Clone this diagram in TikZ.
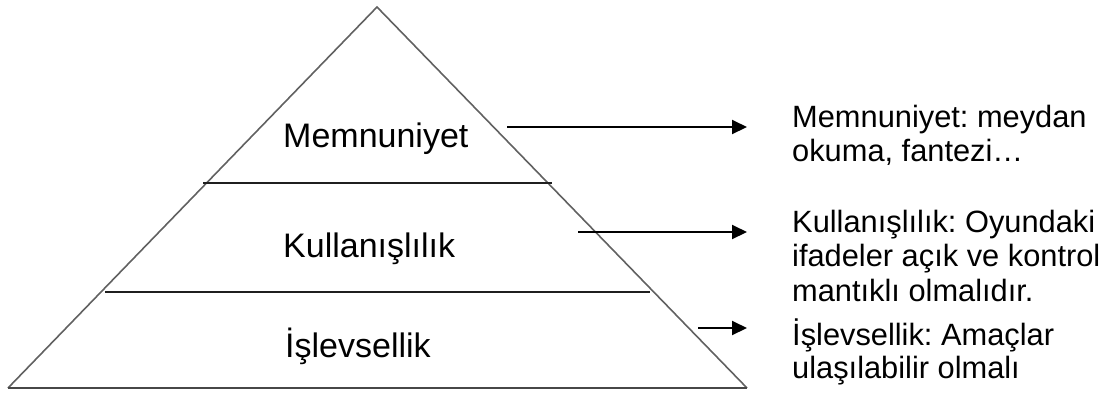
\documentclass[tikz,border=0pt]{standalone}
\usepackage{fontspec}
\setmainfont{Liberation Sans}
\usetikzlibrary{arrows.meta}
\frenchspacing
\begin{document}
\begin{tikzpicture}[x=1pt,y=-1pt,
  side/.style={draw=black!62, line width=1.6pt},
  ground/.style={draw=black!72, line width=2.4pt},
  tier/.style={draw=black!88, line width=1.8pt},
  level/.style={anchor=base west, inner sep=0pt, font=\fontsize{34}{40}\selectfont},
  note/.style={anchor=base west, inner sep=0pt, font=\fontsize{30.8}{34.5}\selectfont},
  pointer/.style={draw=black, line width=2pt, -{Triangle[length=15pt,width=14pt]}}]
\useasboundingbox (0,0) rectangle (1106,392);

% pyramid outline
\coordinate (apex) at (377,7);
\coordinate (bl) at (8,388);
\coordinate (br) at (747,388);
\draw[side] (bl) -- (apex) -- (br);
\draw[ground] (bl) -- (br);

% dividing lines between the levels
\coordinate (t1l) at (203,183);
\coordinate (t1r) at (552,183);
\coordinate (t2l) at (105,292);
\coordinate (t2r) at (650,292);
\draw[tier] (t1l) -- (t1r);
\draw[tier] (t2l) -- (t2r);

% level names
\node[level] (mem) at (283,147) {Memnuniyet};
\node[level] (kul) at (283,257) {Kullanışlılık};
\node[level] (isl) at (285,357) {İşlevsellik};

% explanations on the right
\node[note] (m1) at (792,127) {Memnuniyet: meydan};
\node[note] (m2) at (792,161) {okuma, fantezi…};
\node[note] (k1) at (792,232) {Kullanışlılık: Oyundaki};
\node[note] (k2) at (792,266) {ifadeler açık ve kontrol};
\node[note] (k3) at (792,301) {mantıklı olmalıdır.};
\node[note] (i1) at (792,345) {İşlevsellik: Amaçlar};
\node[note] (i2) at (792,378) {ulaşılabilir olmalı};

% pointers from the levels to their explanations
\coordinate (p1s) at (507,127);
\coordinate (p1e) at (747,127);
\coordinate (p2s) at (578,232);
\coordinate (p2e) at (747,232);
\coordinate (p3s) at (698,328);
\coordinate (p3e) at (747,328);
\draw[pointer] (p1s) -- (p1e);
\draw[pointer] (p2s) -- (p2e);
\draw[pointer] (p3s) -- (p3e);
\end{tikzpicture}
\end{document}
